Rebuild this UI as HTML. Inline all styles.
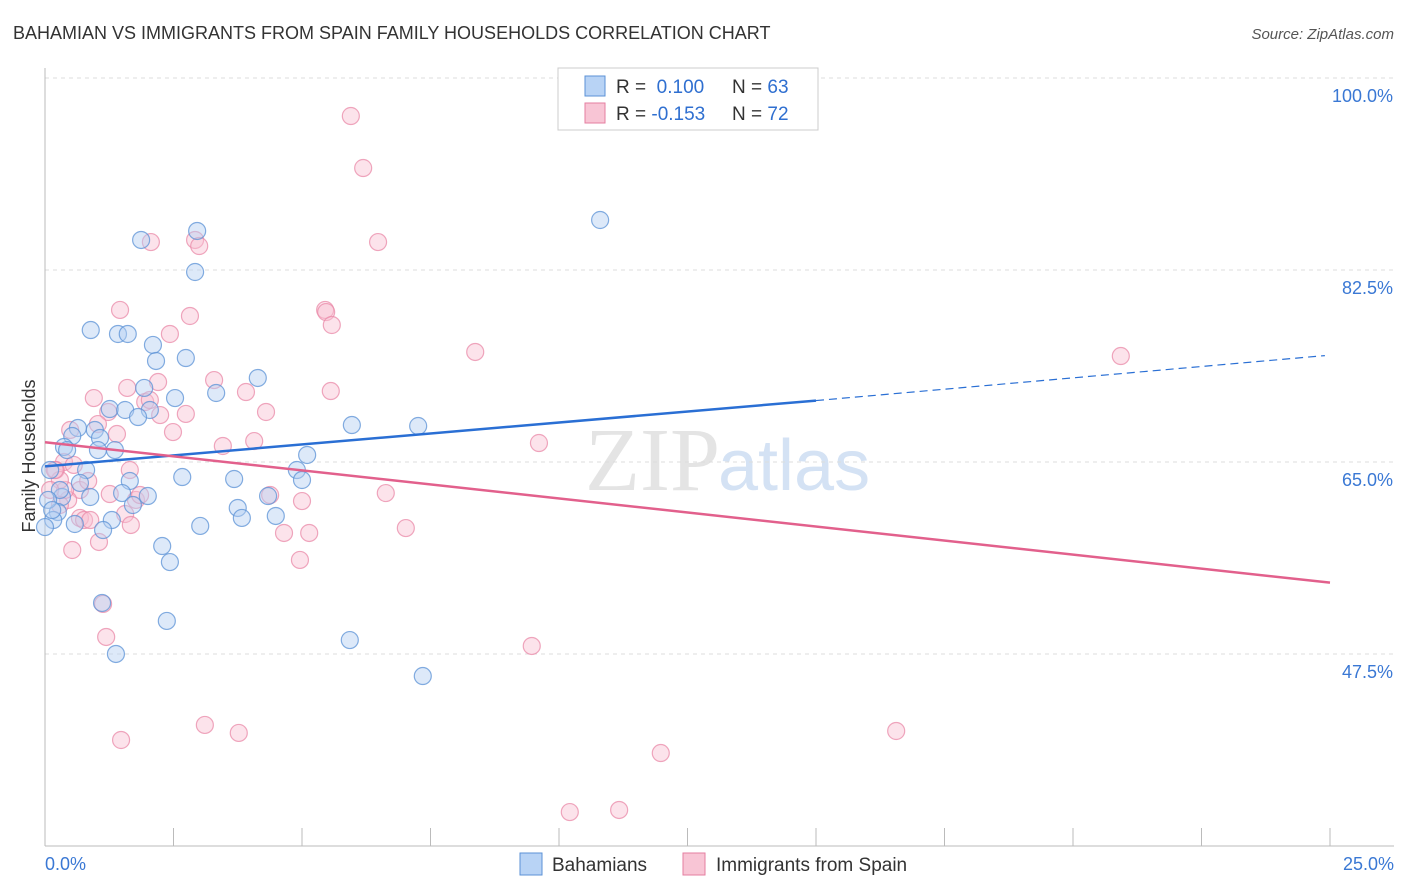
<!DOCTYPE html>
<html><head><meta charset="utf-8"><style>
body{margin:0;background:#fff;font-family:"Liberation Sans",sans-serif}
svg{display:block}
</style></head><body>
<svg id="c" width="1406" height="892">
<text x="13" y="39" font-size="18" fill="#333">BAHAMIAN VS IMMIGRANTS FROM SPAIN FAMILY HOUSEHOLDS CORRELATION CHART</text>
<text x="1394" y="39" font-size="15" fill="#555" font-style="italic" text-anchor="end">Source: ZipAtlas.com</text>
<text x="35" y="456" font-size="18" fill="#333" transform="rotate(-90 35 456)" text-anchor="middle">Family Households</text>
<text x="720" y="490" font-size="90" fill="#e4e4e4" text-anchor="end" font-family="Liberation Serif">ZIP</text>
<text x="718" y="490" font-size="72" fill="#d4e2f4">atlas</text>
<g id="grid"></g><g id="pts"></g><g id="lines"></g>
<g>
<rect x="558" y="68" width="260" height="62" fill="#fff" stroke="#ccc"/>
<rect x="585" y="76" width="20" height="20" fill="#b8d3f5" stroke="#5b92d6"/>
<rect x="585" y="103" width="20" height="20" fill="#f8c5d5" stroke="#e57ea0"/>
<text x="616" y="93" font-size="19" fill="#333">R = <tspan fill="#2f6fd0">&#160;0.100</tspan><tspan x="732">N = </tspan><tspan fill="#2f6fd0">63</tspan></text>
<text x="616" y="120" font-size="19" fill="#333">R = <tspan fill="#2f6fd0">-0.153</tspan><tspan x="732">N = </tspan><tspan fill="#2f6fd0">72</tspan></text>
</g>
<g>
<rect x="520" y="853" width="22" height="22" fill="#b8d3f5" stroke="#5b92d6"/>
<text x="552" y="871" font-size="19" fill="#333">Bahamians</text>
<rect x="683" y="853" width="22" height="22" fill="#f8c5d5" stroke="#e57ea0"/>
<text x="716" y="871" font-size="19" fill="#333">Immigrants from Spain</text>
</g>
</svg>
<script>
const yTicks=[47.5,65.0,82.5,100.0];
const xTickLabels=["0.0%","25.0%"];
const bluePx=[[141,240],[197,231],[195,272],[600,220],[91,330],[118,334],[128,334],[153,345],[156,361],[186,358],[258,378],[144,388],[216,393],[175,398],[110,409],[125,410],[150,410],[138,417],[78,428],[72,436],[95,430],[100,438],[64,447],[67,450],[115,450],[98,450],[86,470],[182,477],[234,479],[297,470],[302,480],[307,455],[352,425],[418,426],[130,481],[80,483],[62,497],[90,497],[122,493],[148,496],[268,496],[58,512],[53,520],[75,524],[112,520],[133,505],[103,530],[200,526],[238,508],[242,518],[276,516],[162,546],[170,562],[102,603],[167,621],[116,654],[350,640],[423,676],[45,527],[50,470],[60,490],[48,500],[52,510]];
const pinkPx=[[351,116],[363,168],[378,242],[151,242],[195,240],[199,246],[120,310],[190,316],[170,334],[325,310],[326,312],[332,325],[475,352],[1121,356],[127,388],[158,382],[214,380],[246,392],[331,391],[94,398],[145,402],[150,400],[108,412],[98,424],[186,414],[266,412],[173,432],[117,434],[223,446],[254,441],[539,443],[64,462],[74,465],[56,470],[80,490],[68,500],[110,494],[136,500],[270,495],[302,501],[386,493],[88,481],[65,490],[80,518],[84,520],[125,514],[131,525],[99,542],[72,550],[284,533],[309,533],[406,528],[300,560],[103,604],[106,637],[532,646],[121,740],[205,725],[239,733],[661,753],[896,731],[570,812],[619,810],[60,480],[50,490],[55,470],[90,520],[140,495],[60,505],[160,415],[70,430],[130,470]];
// convert reading to data values (x in %, y in %)
const blueX=bluePx.map(p=>+((p[0]-45)/51.4).toFixed(2)), blueY=bluePx.map(p=>+(65+(462-p[1])/10.97).toFixed(2));
const pinkX=pinkPx.map(p=>+((p[0]-45)/51.4).toFixed(2)), pinkY=pinkPx.map(p=>+(65+(462-p[1])/10.97).toFixed(2));
const blueLine=[[0,64.6],[15,70.6],[24.9,74.7]];
const pinkLine=[[0,66.8],[25,54.0]];
const X=v=>45+v*51.4, Y=v=>462-(v-65)*10.97;
const NS="http://www.w3.org/2000/svg";
function mk(t,a,p){const e=document.createElementNS(NS,t);for(const k in a)e.setAttribute(k,a[k]);p.appendChild(e);return e;}
const g=document.getElementById('grid');
yTicks.forEach(v=>{const l=mk('line',{x1:45,x2:1394,y1:Y(v),y2:Y(v),stroke:'#ddd','stroke-dasharray':'4,4'},g);


const t=mk('text',{x:1393,y:Y(v)+24,'font-size':18,fill:'#3a78d4','text-anchor':'end'},g);t.textContent=v.toFixed(1)+'%';

});
const ax=mk('line',{x1:45,x2:45,y1:68,y2:846,stroke:'#bbb'},g);


const bx=mk('line',{x1:45,x2:1394,y1:846,y2:846,stroke:'#bbb'},g);


for(let i=0;i<=10;i++){const tk=mk('line',{x1:X(i*2.5),x2:X(i*2.5),y1:828,y2:846,stroke:'#bbb'},g);

}
xTickLabels.forEach((s,i)=>{const t=mk('text',{x:i?1394:45,y:870,'font-size':18,fill:'#3a78d4','text-anchor':i?'end':'start'},g);t.textContent=s;

});
const pg=document.getElementById('pts');
function pts(xs,ys,f,s,n){xs.forEach((x,i)=>{const c=mk('circle',{cx:X(x),cy:Y(ys[i]),r:8.5,fill:f,'fill-opacity':0.45,stroke:s,'stroke-opacity':0.75,'stroke-width':1.2},pg);

});}
pts(pinkX,pinkY,'#f8c0d2','#e98aa8','spain-point');
pts(blueX,blueY,'#b4cff2','#5b92d6','bahamian-point');
const lg=document.getElementById('lines');
const b1=mk('line',{x1:X(blueLine[0][0]),y1:Y(blueLine[0][1]),x2:X(blueLine[1][0]),y2:Y(blueLine[1][1]),stroke:'#2a6fd4','stroke-width':2.5},lg);


const b2=mk('line',{x1:X(blueLine[1][0]),y1:Y(blueLine[1][1]),x2:X(blueLine[2][0]),y2:Y(blueLine[2][1]),stroke:'#2a6fd4','stroke-width':1.2,'stroke-dasharray':'8,5'},lg);


const p1=mk('line',{x1:X(pinkLine[0][0]),y1:Y(pinkLine[0][1]),x2:X(pinkLine[1][0]),y2:Y(pinkLine[1][1]),stroke:'#e2608c','stroke-width':2.5},lg);


</script>
</body></html>
